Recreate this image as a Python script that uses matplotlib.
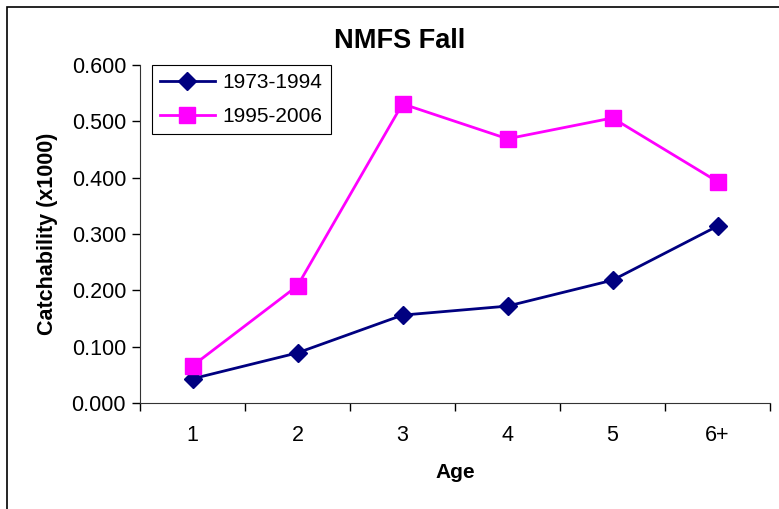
import matplotlib.pyplot as plt
from matplotlib.patches import Rectangle

plt.rcParams['font.family'] = ['Liberation Sans', 'DejaVu Sans']

ages = ['1', '2', '3', '4', '5', '6+']
early = [0.043, 0.089, 0.156, 0.172, 0.218, 0.314]
late = [0.066, 0.208, 0.531, 0.469, 0.506, 0.393]
early_label = '1973-1994'
late_label = '1995-2006'

fig = plt.figure(figsize=(7.79, 5.09), dpi=100)
W, H = 779, 509
ax = fig.add_axes([140 / W, 1 - 403 / H, 630 / W, 338 / H])

x = range(len(ages))
ax.plot(x, early, color='#000080', lw=2, marker='D', ms=9.5, label=early_label)
ax.plot(x, late, color='#FF00FF', lw=2, marker='s', ms=11, label=late_label)

ax.set_xlim(-0.5, len(ages) - 0.5)
ax.set_ylim(0, 0.6)
ax.set_yticks([0, 0.1, 0.2, 0.3, 0.4, 0.5, 0.6])
ax.set_yticklabels([f'{v:.3f}' for v in ax.get_yticks()])

# tick marks between categories, labels centred on them
ax.set_xticks([i - 0.5 for i in range(len(ages) + 1)])
ax.set_xticklabels([])
ax.set_xticks(list(x), minor=True)
ax.set_xticklabels(ages, minor=True)
ax.tick_params(axis='x', which='major', length=6, direction='out', width=1)
ax.tick_params(axis='x', which='minor', length=0, pad=16, labelsize=15.5)
ax.tick_params(axis='y', length=6, direction='out', width=1, labelsize=15.5, pad=4)

for side in ['top', 'right']:
    ax.spines[side].set_visible(False)
for side in ['left', 'bottom']:
    ax.spines[side].set_color('#333333')

ax.set_xlabel('Age', fontsize=15, fontweight='bold', labelpad=12)
ax.set_ylabel('Catchability (x1000)', fontsize=15.5, fontweight='bold', labelpad=10)
fig.text(400 / W, 1 - 41 / H, 'NMFS Fall', fontsize=19.5, fontweight='bold',
         ha='center', va='center')

leg = ax.legend(loc='upper left', bbox_to_anchor=(12 / 630, 1.0), borderaxespad=0,
                fontsize=15, fancybox=False, framealpha=1, handlelength=2.6,
                handletextpad=0.4, borderpad=0.4, labelspacing=0.7)
leg.get_frame().set_edgecolor('black')
leg.get_frame().set_linewidth(0.8)

# outer chart border
fig.patches.append(Rectangle((7 / W, -0.1), 1.1, 1 - 7 / H + 0.1,
                             transform=fig.transFigure, fill=False,
                             edgecolor='black', lw=1.2))

fig.savefig('out.png', dpi=100)
